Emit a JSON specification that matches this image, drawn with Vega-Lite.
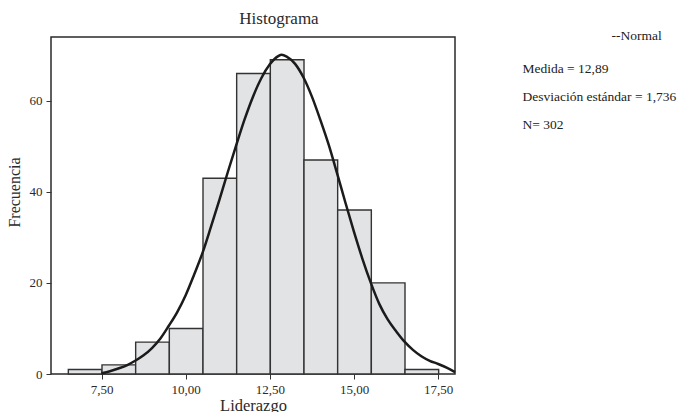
{
  "$schema": "https://vega.github.io/schema/vega-lite/v6.json",
  "width": 404,
  "height": 337,
  "autosize": {"type": "none"},
  "padding": {"left": 51, "top": 37, "right": 227, "bottom": 38},
  "background": "#ffffff",
  "title": {
    "text": "Histograma",
    "font": "Liberation Serif",
    "fontSize": 17,
    "fontWeight": "normal",
    "color": "#2a2a2a",
    "anchor": "middle",
    "frame": "group",
    "dx": 26,
    "offset": 1
  },
  "datasets": {
    "barras": [
      {"desde": 6.5, "hasta": 7.5, "frecuencia": 1},
      {"desde": 7.5, "hasta": 8.5, "frecuencia": 2},
      {"desde": 8.5, "hasta": 9.5, "frecuencia": 7},
      {"desde": 9.5, "hasta": 10.5, "frecuencia": 10},
      {"desde": 10.5, "hasta": 11.5, "frecuencia": 43},
      {"desde": 11.5, "hasta": 12.5, "frecuencia": 66},
      {"desde": 12.5, "hasta": 13.5, "frecuencia": 69},
      {"desde": 13.5, "hasta": 14.5, "frecuencia": 47},
      {"desde": 14.5, "hasta": 15.5, "frecuencia": 36},
      {"desde": 15.5, "hasta": 16.5, "frecuencia": 20},
      {"desde": 16.5, "hasta": 17.5, "frecuencia": 1}
    ],
    "normal": [
      {"liderazgo": 7.5, "frecuencia": 0.15},
      {"liderazgo": 7.75, "frecuencia": 0.6},
      {"liderazgo": 8.0, "frecuencia": 1.2},
      {"liderazgo": 8.25, "frecuencia": 1.9},
      {"liderazgo": 8.5, "frecuencia": 2.9},
      {"liderazgo": 8.75, "frecuencia": 4.1},
      {"liderazgo": 9.0, "frecuencia": 5.7},
      {"liderazgo": 9.25, "frecuencia": 7.8},
      {"liderazgo": 9.5, "frecuencia": 10.6},
      {"liderazgo": 9.75, "frecuencia": 13.6},
      {"liderazgo": 10.0, "frecuencia": 17.3},
      {"liderazgo": 10.25, "frecuencia": 21.8},
      {"liderazgo": 10.5, "frecuencia": 26.6},
      {"liderazgo": 10.75, "frecuencia": 32.3},
      {"liderazgo": 11.0, "frecuencia": 38.2},
      {"liderazgo": 11.25, "frecuencia": 44.3},
      {"liderazgo": 11.5, "frecuencia": 50.2},
      {"liderazgo": 11.75, "frecuencia": 55.9},
      {"liderazgo": 12.0, "frecuencia": 60.9},
      {"liderazgo": 12.25, "frecuencia": 65.0},
      {"liderazgo": 12.5, "frecuencia": 68.0},
      {"liderazgo": 12.75, "frecuencia": 69.8},
      {"liderazgo": 12.85, "frecuencia": 70.1},
      {"liderazgo": 13.0, "frecuencia": 69.7},
      {"liderazgo": 13.25, "frecuencia": 68.1},
      {"liderazgo": 13.5, "frecuencia": 65.1},
      {"liderazgo": 13.75, "frecuencia": 60.9},
      {"liderazgo": 14.0, "frecuencia": 55.8},
      {"liderazgo": 14.25, "frecuencia": 50.3},
      {"liderazgo": 14.5, "frecuencia": 44.0},
      {"liderazgo": 14.75, "frecuencia": 37.5},
      {"liderazgo": 15.0, "frecuencia": 31.2},
      {"liderazgo": 15.25, "frecuencia": 25.3},
      {"liderazgo": 15.5, "frecuencia": 20.0},
      {"liderazgo": 15.75, "frecuencia": 15.4},
      {"liderazgo": 16.0, "frecuencia": 12.0},
      {"liderazgo": 16.25, "frecuencia": 9.4},
      {"liderazgo": 16.5, "frecuencia": 7.1},
      {"liderazgo": 16.75, "frecuencia": 5.3},
      {"liderazgo": 17.0, "frecuencia": 3.9},
      {"liderazgo": 17.25, "frecuencia": 2.9},
      {"liderazgo": 17.5, "frecuencia": 2.2},
      {"liderazgo": 17.75, "frecuencia": 1.4},
      {"liderazgo": 18.0, "frecuencia": 0.4}
    ],
    "estadisticos": [
      {"texto": "Medida = 12,89"},
      {"texto": "Desviación estándar = 1,736"},
      {"texto": "N= 302"}
    ]
  },
  "layer": [
    {
      "data": {"name": "barras"},
      "mark": {"type": "bar", "fill": "#e2e3e5", "stroke": "#333333", "strokeWidth": 1.4, "binSpacing": 0},
      "encoding": {
        "x": {"field": "desde", "type": "quantitative", "bin": {"binned": true, "step": 1}, "title": "Liderazgo"},
        "x2": {"field": "hasta"},
        "y": {"field": "frecuencia", "type": "quantitative", "title": "Frecuencia"}
      }
    },
    {
      "data": {"name": "normal"},
      "mark": {"type": "line", "strokeWidth": 2.5, "interpolate": "monotone"},
      "encoding": {
        "x": {"field": "liderazgo", "type": "quantitative"},
        "y": {"field": "frecuencia", "type": "quantitative"},
        "color": {
          "datum": "--Normal",
          "type": "nominal",
          "scale": {"range": ["#1b1b1b"]},
          "legend": {
            "title": null,
            "orient": "none",
            "legendX": 547,
            "legendY": -8,
            "symbolType": "circle",
            "symbolSize": 0,
            "symbolStrokeWidth": 0,
            "symbolOpacity": 0,
            "labelOffset": 0,
            "labelFont": "Liberation Serif",
            "labelFontSize": 13.5,
            "labelColor": "#222222",
            "labelLimit": 300
          }
        }
      }
    },
    {
      "data": {"name": "estadisticos"},
      "mark": {"type": "point", "opacity": 0},
      "encoding": {
        "shape": {
          "field": "texto",
          "type": "nominal",
          "sort": null,
          "legend": {
            "title": null,
            "orient": "none",
            "legendX": 458,
            "legendY": 25,
            "symbolSize": 0,
            "symbolStrokeWidth": 0,
            "symbolOpacity": 0,
            "labelOffset": 0,
            "rowPadding": 13,
            "labelFont": "Liberation Serif",
            "labelFontSize": 13.5,
            "labelColor": "#222222",
            "labelLimit": 300
          }
        }
      }
    }
  ],
  "resolve": {"legend": {"color": "independent", "shape": "independent"}},
  "encoding": {
    "x": {
      "type": "quantitative",
      "scale": {"domain": [6, 18], "nice": false, "zero": false},
      "axis": {
        "values": [7.5, 10, 12.5, 15, 17.5],
        "labelExpr": "replace(format(datum.value, '.2f'), '.', ',')",
        "grid": false,
        "domain": false,
        "tickSize": 5,
        "tickColor": "#333333",
        "tickWidth": 1,
        "labelPadding": 4,
        "labelFont": "Liberation Serif",
        "labelFontSize": 13,
        "labelColor": "#2a2a2a",
        "titleFont": "Liberation Serif",
        "titleFontSize": 16.5,
        "titleFontWeight": "normal",
        "titleColor": "#2a2a2a",
        "titlePadding": 1
      }
    },
    "y": {
      "type": "quantitative",
      "scale": {"domain": [0, 74], "nice": false},
      "axis": {
        "values": [0, 20, 40, 60],
        "grid": false,
        "domain": false,
        "tickSize": 5,
        "tickColor": "#333333",
        "tickWidth": 1,
        "labelPadding": 4,
        "labelFont": "Liberation Serif",
        "labelFontSize": 13,
        "labelColor": "#2a2a2a",
        "titleFont": "Liberation Serif",
        "titleFontSize": 16,
        "titleFontWeight": "normal",
        "titleColor": "#2a2a2a",
        "titlePadding": 7,
        "titleY": 155
      }
    }
  },
  "config": {
    "view": {"stroke": "#2a2a2a", "strokeWidth": 1.5},
    "bar": {"binSpacing": 0}
  }
}
